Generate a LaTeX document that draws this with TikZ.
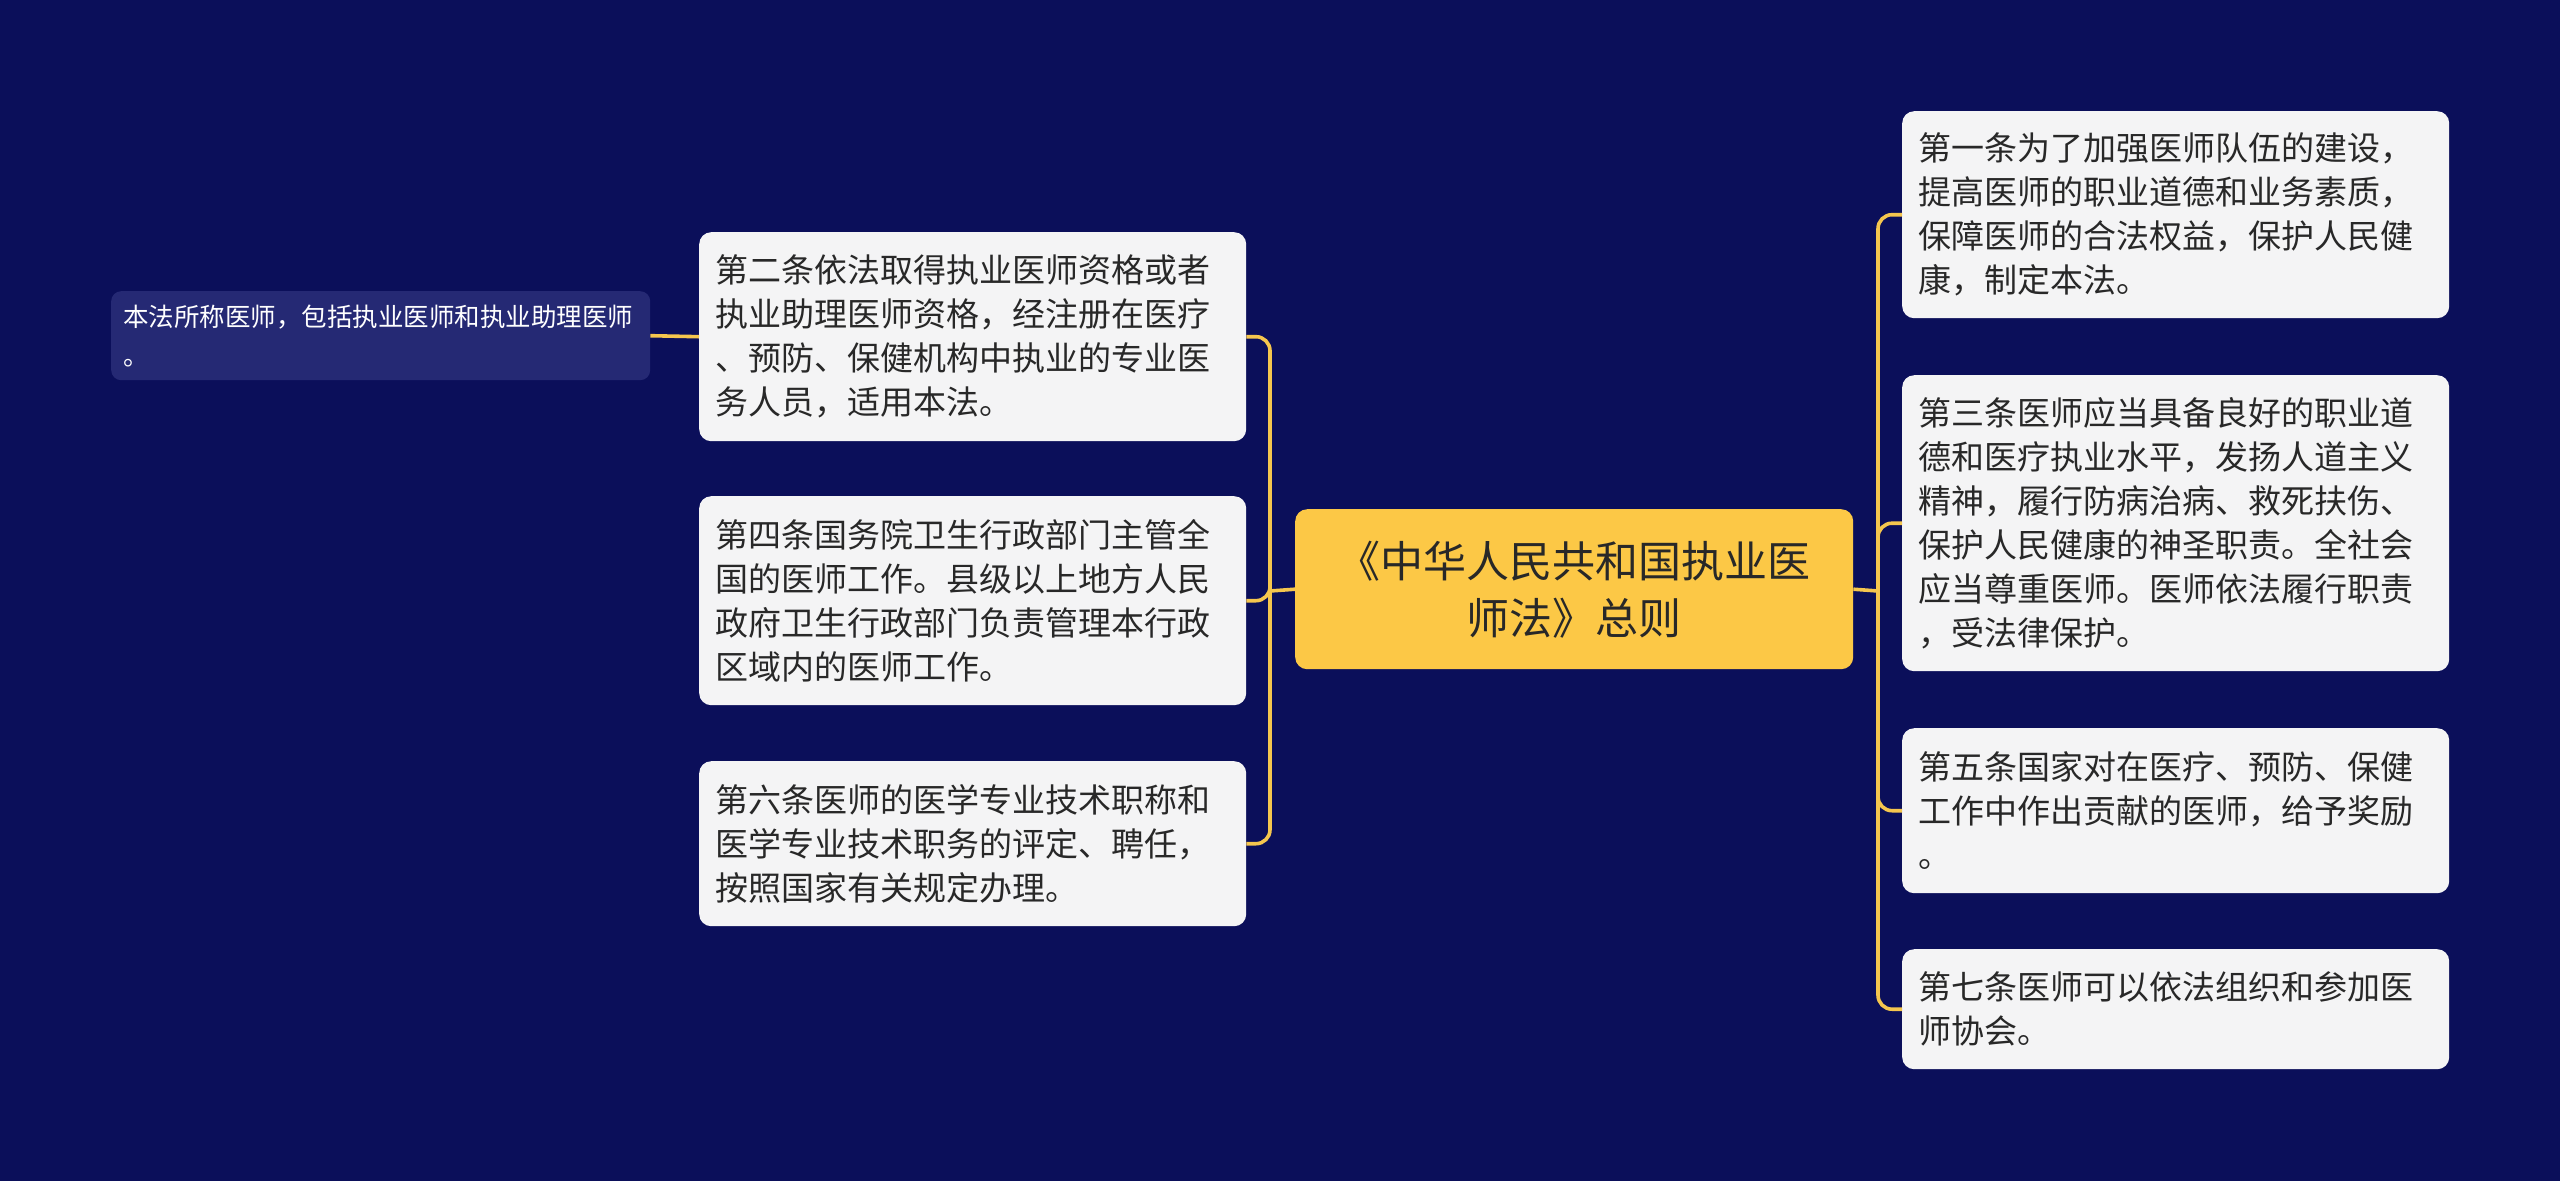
\documentclass[tikz,border=0pt]{standalone}
\usepackage{fontspec}
\setmainfont{Noto Sans CJK SC}
\definecolor{bgc}{RGB}{11,15,90}
\definecolor{leafc}{RGB}{244,244,245}
\definecolor{subc}{RGB}{37,41,116}
\definecolor{rootc}{RGB}{252,200,70}
\definecolor{linec}{RGB}{245,198,78}
\definecolor{txtc}{RGB}{40,40,40}
\begin{document}
\begin{tikzpicture}[x=1pt,y=-1pt,
  leaf/.style={draw=none, fill=leafc, rounded corners=12pt, text=txtc, align=left,
    text width=515pt, inner xsep=16pt, inner ysep=0pt, anchor=north west,
    font=\fontsize{33pt}{44pt}\selectfont},
  subleaf/.style={draw=none, fill=subc, rounded corners=10pt, text=white, align=left,
    text width=515pt, inner xsep=12pt, inner ysep=0pt, anchor=north west,
    minimum height=89pt, font=\fontsize{25.5pt}{39pt}\selectfont},
  rootbox/.style={draw=none, fill=rootc, rounded corners=12pt, text=txtc, align=center,
    text width=526pt, inner xsep=16pt, inner ysep=0pt, anchor=north west,
    minimum height=160pt, font=\fontsize{43pt}{57pt}\selectfont},
  conn/.style={draw=linec, line width=3.6pt, rounded corners=14pt}
]
\fill[bgc] (0,0) rectangle (2560,1181);
\useasboundingbox (0,0) rectangle (2560,1181);

% root
\node[rootbox] (c) at (1295,509) {《中华人民共和国执业医\\师法》总则};

% left
\node[leaf, minimum height=209pt] (n2) at (699,232) {第二条依法取得执业医师资格或者\\执业助理医师资格，经注册在医疗\\、预防、保健机构中执业的专业医\\务人员，适用本法。};
\node[leaf, minimum height=209pt] (n4) at (699,496) {第四条国务院卫生行政部门主管全\\国的医师工作。县级以上地方人民\\政府卫生行政部门负责管理本行政\\区域内的医师工作。};
\node[leaf, minimum height=165pt] (n6) at (699,761) {第六条医师的医学专业技术职称和\\医学专业技术职务的评定、聘任，\\按照国家有关规定办理。};
\node[subleaf] (n1) at (111,291) {本法所称医师，包括执业医师和执业助理医师\\。};

% right
\node[leaf, minimum height=207pt] (r1) at (1902,111) {第一条为了加强医师队伍的建设，\\提高医师的职业道德和业务素质，\\保障医师的合法权益，保护人民健\\康，制定本法。};
\node[leaf, minimum height=296pt] (r3) at (1902,375) {第三条医师应当具备良好的职业道\\德和医疗执业水平，发扬人道主义\\精神，履行防病治病、救死扶伤、\\保护人民健康的神圣职责。全社会\\应当尊重医师。医师依法履行职责\\，受法律保护。};
\node[leaf, minimum height=165pt] (r5) at (1902,728) {第五条国家对在医疗、预防、保健\\工作中作出贡献的医师，给予奖励\\。};
\node[leaf, minimum height=120pt] (r7) at (1902,949) {第七条医师可以依法组织和参加医\\师协会。};

% junctions
\coordinate (lj) at (1270,591);
\coordinate (rj) at (1878,591);

\draw[conn] (c.west) -- (lj);
\draw[conn] (lj) |- (n2.east);
\draw[conn] (lj) |- (n4.east);
\draw[conn] (lj) |- (n6.east);
\draw[conn] (n2.west) -- (n1.east);

\draw[conn] (c.east) -- (rj);
\draw[conn] (rj) |- (r1.west);
\draw[conn] (rj) |- (r3.west);
\draw[conn] (rj) |- (r5.west);
\draw[conn] (rj) |- (r7.west);
\end{tikzpicture}
\end{document}
